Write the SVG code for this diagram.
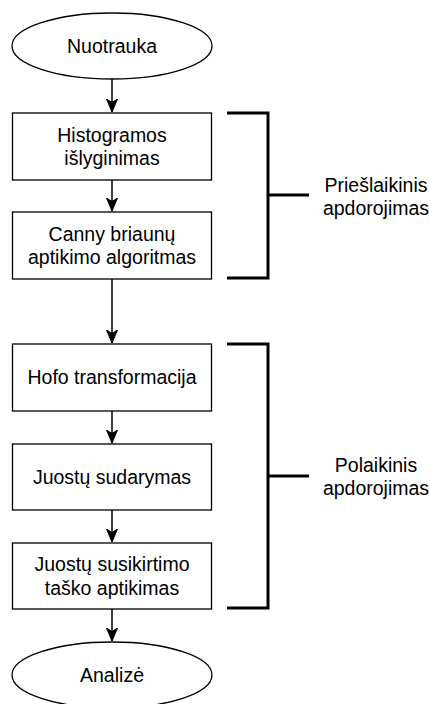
<svg xmlns="http://www.w3.org/2000/svg" width="430" height="704" viewBox="0 0 430 704">
<style>
.n{fill:#fff;stroke:#000;stroke-width:1.3}
.t{font-family:"Liberation Sans",Arial,sans-serif;font-size:19.5px;fill:#000;text-anchor:middle}
.c{fill:none;stroke:#000;stroke-width:1.5}
.b{fill:none;stroke:#000;stroke-width:3}
</style>
<defs>
<marker id="ah" markerUnits="userSpaceOnUse" markerWidth="14" markerHeight="14" viewBox="0 0 14 14" refX="13" refY="7" orient="auto">
<path d="M13,7 L0,1.5 L3.5,7 L0,12.5 Z" fill="#000" stroke="#000" stroke-width="1"/>
</marker>
</defs>
<rect width="430" height="704" fill="#fff"/>
<g id="connectors">
<line class="c" x1="112" y1="79" x2="112" y2="112" marker-end="url(#ah)"/>
<line class="c" x1="112" y1="180" x2="112" y2="211" marker-end="url(#ah)"/>
<line class="c" x1="112" y1="279" x2="112" y2="343" marker-end="url(#ah)"/>
<line class="c" x1="112" y1="411" x2="112" y2="443" marker-end="url(#ah)"/>
<line class="c" x1="112" y1="510" x2="112" y2="542" marker-end="url(#ah)"/>
<line class="c" x1="112" y1="609" x2="112" y2="641" marker-end="url(#ah)"/>
</g>
<g id="start">
<ellipse class="n" cx="112" cy="46" rx="100" ry="33"/>
<text class="t" x="112" y="53">Nuotrauka</text>
</g>
<g id="histogram">
<rect class="n" x="12.5" y="113" width="199" height="67"/>
<text class="t" x="112" y="142">Histogramos</text>
<text class="t" x="112" y="165">išlyginimas</text>
</g>
<g id="canny">
<rect class="n" x="12.5" y="212" width="199" height="67"/>
<text class="t" x="112" y="241">Canny briaunų</text>
<text class="t" x="112" y="264">aptikimo algoritmas</text>
</g>
<g id="hough">
<rect class="n" x="12.5" y="344" width="199" height="67"/>
<text class="t" x="112" y="384">Hofo transformacija</text>
</g>
<g id="lanes">
<rect class="n" x="12.5" y="444" width="199" height="66"/>
<text class="t" x="112" y="484">Juostų sudarymas</text>
</g>
<g id="vanishing">
<rect class="n" x="12.5" y="543" width="199" height="66"/>
<text class="t" x="112" y="571">Juostų susikirtimo</text>
<text class="t" x="112" y="595">taško aptikimas</text>
</g>
<g id="end">
<ellipse class="n" cx="112" cy="675" rx="100" ry="33"/>
<text class="t" x="112" y="682">Analizė</text>
</g>
<g id="pre-bracket">
<path class="b" d="M227,113 H268 V278 H227 M268,195 H309"/>
<text class="t" x="376" y="192">Priešlaikinis</text>
<text class="t" x="376" y="215">apdorojimas</text>
</g>
<g id="post-bracket">
<path class="b" d="M227,344 H268 V608 H227 M268,476 H309"/>
<text class="t" x="376" y="472">Polaikinis</text>
<text class="t" x="376" y="495">apdorojimas</text>
</g>
</svg>
